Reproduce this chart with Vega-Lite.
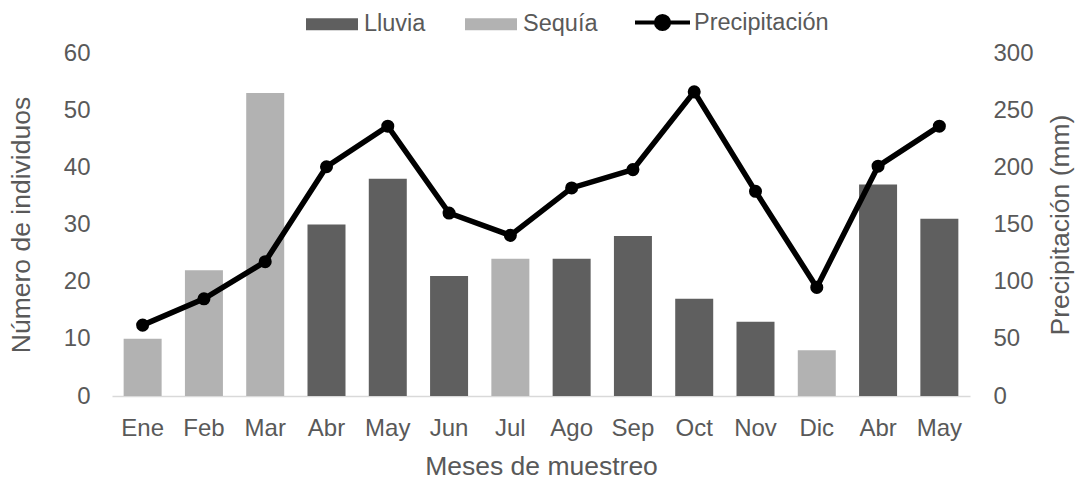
{
  "$schema": "https://vega.github.io/schema/vega-lite/v6.json",
  "width": 858,
  "height": 343,
  "autosize": {"type": "none"},
  "padding": {"left": 112, "top": 53, "right": 111, "bottom": 87},
  "background": "white",
  "config": {
    "font": "Liberation Sans",
    "view": {"stroke": null},
    "axis": {"labelFont": "Liberation Sans", "titleFont": "Liberation Sans", "labelColor": "#595959", "titleColor": "#595959", "titleFontWeight": "normal", "grid": false, "ticks": false},
    "legend": {"labelFont": "Liberation Sans", "labelColor": "#595959"}
  },
  "data": {
    "values": [
      {"mes": "Ene", "temporada": "Sequía", "individuos": 10, "precipitacion": 62},
      {"mes": "Feb", "temporada": "Sequía", "individuos": 22, "precipitacion": 85},
      {"mes": "Mar", "temporada": "Sequía", "individuos": 53, "precipitacion": 117.5},
      {"mes": "Abr", "temporada": "Lluvia", "individuos": 30, "precipitacion": 200.5},
      {"mes": "May", "temporada": "Lluvia", "individuos": 38, "precipitacion": 236},
      {"mes": "Jun", "temporada": "Lluvia", "individuos": 21, "precipitacion": 160},
      {"mes": "Jul", "temporada": "Sequía", "individuos": 24, "precipitacion": 140.5},
      {"mes": "Ago", "temporada": "Lluvia", "individuos": 24, "precipitacion": 182},
      {"mes": "Sep", "temporada": "Lluvia", "individuos": 28, "precipitacion": 198},
      {"mes": "Oct", "temporada": "Lluvia", "individuos": 17, "precipitacion": 266},
      {"mes": "Nov", "temporada": "Lluvia", "individuos": 13, "precipitacion": 179},
      {"mes": "Dic", "temporada": "Sequía", "individuos": 8, "precipitacion": 95},
      {"mes": "Abr2", "temporada": "Lluvia", "individuos": 37, "precipitacion": 201},
      {"mes": "May2", "temporada": "Lluvia", "individuos": 31, "precipitacion": 236}
    ]
  },
  "encoding": {
    "x": {
      "field": "mes", "type": "nominal", "sort": null,
      "scale": {"paddingInner": 0.38, "paddingOuter": 0.19},
      "axis": {"title": "Meses de muestreo", "labelAngle": 0, "labelFontSize": 24, "labelPadding": 20, "titleFontSize": 26.5, "titlePadding": 13, "domainColor": "#d9d9d9", "domainWidth": 1.5, "labelExpr": "replace(datum.label, '2', '')"}
    }
  },
  "layer": [
    {
      "mark": {"type": "bar"},
      "encoding": {
        "y": {
          "field": "individuos", "type": "quantitative",
          "scale": {"domain": [0, 60]},
          "axis": {"title": "Número de individuos", "orient": "left", "values": [0, 10, 20, 30, 40, 50, 60], "domain": false, "labelFontSize": 24, "labelPadding": 22, "titleFontSize": 26.5, "titlePadding": 28}
        },
        "color": {
          "field": "temporada", "type": "nominal",
          "scale": {"domain": ["Lluvia", "Sequía"], "range": ["#5f5f5f", "#b2b2b2"]},
          "legend": {"title": null, "orient": "none", "legendX": 194, "legendY": -55, "direction": "horizontal", "symbolType": "M-1,-0.23H1V0.23H-1Z", "symbolSize": 2704, "labelFontSize": 23.5, "labelOffset": 6, "columnPadding": 39, "symbolStrokeWidth": 0}
        }
      }
    },
    {
      "layer": [
        {
          "mark": {"type": "line", "color": "black", "strokeWidth": 5.5},
          "encoding": {
            "y": {
              "field": "precipitacion", "type": "quantitative",
              "scale": {"domain": [0, 300]},
              "axis": {"title": "Precipitación (mm)", "orient": "right", "titleAngle": 270, "values": [0, 50, 100, 150, 200, 250, 300], "domain": false, "labelFontSize": 24, "labelPadding": 23, "titleFontSize": 26.5, "titlePadding": 41}
            }
          }
        },
        {
          "mark": {"type": "point", "filled": true, "size": 170, "opacity": 1},
          "encoding": {
            "y": {"field": "precipitacion", "type": "quantitative", "scale": {"domain": [0, 300]}},
            "color": {
              "datum": "Precipitación",
              "scale": {"domain": ["Precipitación"], "range": ["#000000"]},
              "legend": {"title": null, "orient": "none", "legendX": 521, "legendY": -60, "direction": "horizontal", "symbolType": "M-1,0H1M0.24,0A0.24,0.24,0,1,1,-0.24,0A0.24,0.24,0,1,1,0.24,0", "symbolSize": 3025, "symbolStrokeColor": "#000000", "symbolFillColor": "#000000", "symbolStrokeWidth": 4, "symbolOpacity": 1, "labelFontSize": 23.5, "labelOffset": 2}
            }
          }
        }
      ]
    }
  ],
  "resolve": {"scale": {"y": "independent", "color": "independent"}, "legend": {"color": "independent"}}
}
